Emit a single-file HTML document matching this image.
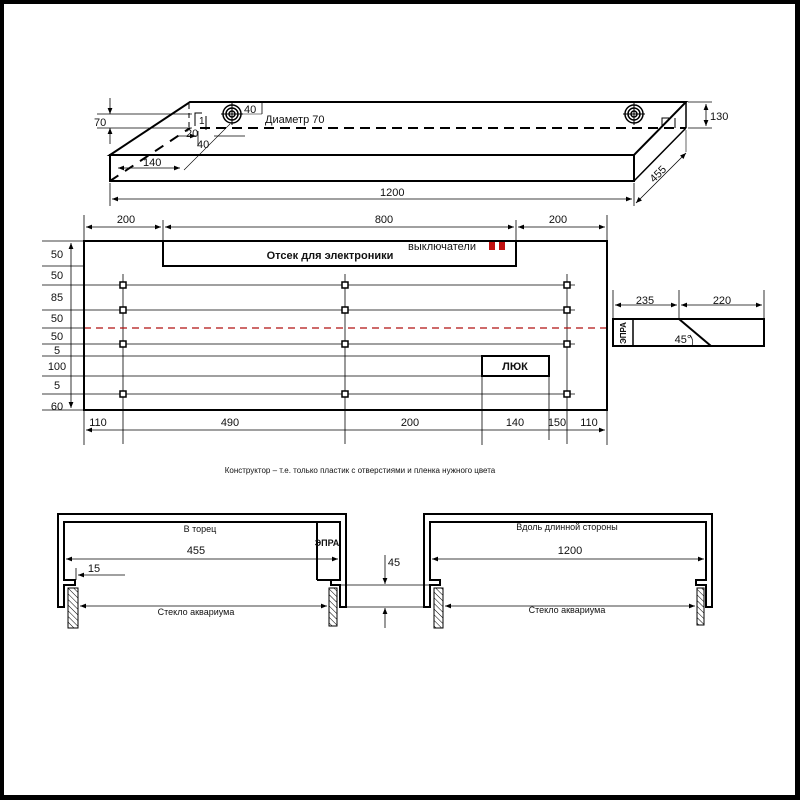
<!DOCTYPE html>
<html><head><meta charset="utf-8"><style>
html,body{margin:0;padding:0;background:#fff}
svg{display:block}
text{font-family:"Liberation Sans",sans-serif;fill:#111}
</style></head><body>
<svg width="800" height="800" viewBox="0 0 800 800" xmlns="http://www.w3.org/2000/svg">
<defs>
<marker id="a" viewBox="0 0 10 10" refX="10" refY="5" markerWidth="8" markerHeight="6" orient="auto-start-reverse" markerUnits="userSpaceOnUse"><path d="M0,1 L10,5 L0,9 z" fill="#000"/></marker>
<pattern id="h" width="4" height="4" patternUnits="userSpaceOnUse" patternTransform="rotate(-45)"><line x1="0" y1="0" x2="0" y2="4" stroke="#000" stroke-width="1"/></pattern>
</defs>
<rect x="0" y="0" width="800" height="800" fill="#000"/>
<rect x="4" y="4" width="791" height="791" fill="#fff"/>

<g stroke="#000" fill="none">
<path d="M110,155 L190,102 L686,102 L634,155 Z" stroke-width="2"/>
<rect x="110" y="155" width="524" height="26" stroke-width="2"/>
<line x1="686" y1="102" x2="686" y2="128" stroke-width="1.5"/>
<line x1="634" y1="181" x2="686" y2="128" stroke-width="1.5"/>
<line x1="200" y1="128" x2="686" y2="128" stroke-width="2" stroke-dasharray="10,6"/>
<line x1="110" y1="181" x2="190" y2="128" stroke-width="2" stroke-dasharray="10,8"/>
<line x1="189" y1="104" x2="189" y2="128" stroke-width="1" stroke-dasharray="5,4"/>
<g stroke-width="1.5"><circle cx="232" cy="114" r="9"/><circle cx="232" cy="114" r="6"/><circle cx="232" cy="114" r="3"/><line x1="221" y1="114" x2="243" y2="114" stroke-width="1"/><line x1="232" y1="103" x2="232" y2="125" stroke-width="1"/></g>
<g stroke-width="1.5"><circle cx="634" cy="114" r="9"/><circle cx="634" cy="114" r="6"/><circle cx="634" cy="114" r="3"/><line x1="623" y1="114" x2="645" y2="114" stroke-width="1"/><line x1="634" y1="103" x2="634" y2="125" stroke-width="1"/></g>
<path d="M662,126 V118 H669" stroke-width="1"/><line x1="675" y1="118" x2="675" y2="128" stroke-width="1"/>
<path d="M195,126 V113 H202" stroke-width="1"/><line x1="206" y1="116" x2="206" y2="130" stroke-width="1"/>
<line x1="97" y1="114" x2="192" y2="114" stroke-width="0.8"/>
<line x1="97" y1="128" x2="192" y2="128" stroke-width="0.8"/>
<line x1="110" y1="98" x2="110" y2="114" stroke-width="0.8" marker-end="url(#a)"/>
<line x1="110" y1="144" x2="110" y2="128" stroke-width="0.8" marker-end="url(#a)"/>
<line x1="198" y1="131" x2="198" y2="146" stroke-width="0.8"/>
<line x1="178" y1="136" x2="196" y2="136" stroke-width="0.8" marker-end="url(#a)"/>
<line x1="214" y1="136" x2="245" y2="136" stroke-width="0.8"/>
<line x1="184" y1="170" x2="230" y2="124" stroke-width="0.6"/>
<line x1="118" y1="168" x2="180" y2="168" stroke-width="0.8" marker-start="url(#a)" marker-end="url(#a)"/>
<line x1="243" y1="114" x2="262" y2="114" stroke-width="0.6"/>
<line x1="262" y1="102" x2="262" y2="114" stroke-width="0.8"/>
<line x1="110" y1="183" x2="110" y2="206" stroke-width="0.8"/>
<line x1="634" y1="183" x2="634" y2="206" stroke-width="0.8"/>
<line x1="112" y1="199" x2="632" y2="199" stroke-width="0.8" marker-start="url(#a)" marker-end="url(#a)"/>
<line x1="688" y1="102" x2="712" y2="102" stroke-width="0.8"/>
<line x1="688" y1="128" x2="712" y2="128" stroke-width="0.8"/>
<line x1="706" y1="104" x2="706" y2="126" stroke-width="0.8" marker-start="url(#a)" marker-end="url(#a)"/>
<line x1="686" y1="130" x2="686" y2="152" stroke-width="0.6"/>
<line x1="636" y1="203" x2="686" y2="153" stroke-width="0.8" marker-start="url(#a)" marker-end="url(#a)"/>
</g>
<text x="94" y="126" font-size="11">70</text>
<text x="244" y="113" font-size="11">40</text>
<text x="265" y="123" font-size="11">Диаметр 70</text>
<text x="199" y="124" font-size="10">1</text>
<text x="186" y="137" font-size="11">20</text>
<text x="197" y="148" font-size="11">40</text>
<text x="143" y="166" font-size="11">140</text>
<text x="380" y="196" font-size="11">1200</text>
<text x="710" y="120" font-size="11">130</text>
<text x="0" y="0" font-size="11" transform="translate(654,183) rotate(-45)">455</text>

<g stroke="#000" fill="none">
<g stroke-width="0.8">
<line x1="42" y1="241" x2="84" y2="241"/>
<line x1="42" y1="266" x2="84" y2="266"/>
<line x1="42" y1="285" x2="575" y2="285"/>
<line x1="42" y1="310" x2="575" y2="310"/>
<line x1="42" y1="344" x2="575" y2="344"/>
<line x1="42" y1="356" x2="482" y2="356"/>
<line x1="42" y1="376" x2="482" y2="376"/>
<line x1="42" y1="394" x2="575" y2="394"/>
<line x1="42" y1="410" x2="84" y2="410"/>
<line x1="42" y1="328" x2="84" y2="328"/>
<line x1="71" y1="243" x2="71" y2="408" marker-start="url(#a)" marker-end="url(#a)"/>
<line x1="123" y1="274" x2="123" y2="444"/>
<line x1="345" y1="274" x2="345" y2="444"/>
<line x1="567" y1="274" x2="567" y2="444"/>
<line x1="84" y1="410" x2="84" y2="445"/>
<line x1="482" y1="376" x2="482" y2="445"/>
<line x1="549" y1="376" x2="549" y2="440"/>
<line x1="607" y1="410" x2="607" y2="445"/>
<line x1="86" y1="430" x2="605" y2="430" marker-start="url(#a)" marker-end="url(#a)"/>
<line x1="84" y1="215" x2="84" y2="241"/>
<line x1="163" y1="220" x2="163" y2="241"/>
<line x1="516" y1="220" x2="516" y2="241"/>
<line x1="607" y1="215" x2="607" y2="241"/>
<line x1="86" y1="227" x2="161" y2="227" marker-start="url(#a)" marker-end="url(#a)"/>
<line x1="165" y1="227" x2="514" y2="227" marker-start="url(#a)" marker-end="url(#a)"/>
<line x1="518" y1="227" x2="605" y2="227" marker-start="url(#a)" marker-end="url(#a)"/>
</g>
<line x1="84" y1="328" x2="612" y2="328" stroke="#b01010" stroke-width="1.2" stroke-dasharray="7,5"/>
<rect x="84" y="241" width="523" height="169" stroke-width="2"/>
<rect x="163" y="241" width="353" height="25" stroke-width="2"/>
<rect x="482" y="356" width="67" height="20" stroke-width="2"/>
<g stroke-width="1.5" fill="#fff">
<rect x="120" y="282" width="6" height="6"/><rect x="120" y="307" width="6" height="6"/><rect x="120" y="341" width="6" height="6"/><rect x="120" y="391" width="6" height="6"/>
<rect x="342" y="282" width="6" height="6"/><rect x="342" y="307" width="6" height="6"/><rect x="342" y="341" width="6" height="6"/><rect x="342" y="391" width="6" height="6"/>
<rect x="564" y="282" width="6" height="6"/><rect x="564" y="307" width="6" height="6"/><rect x="564" y="341" width="6" height="6"/><rect x="564" y="391" width="6" height="6"/>
</g>
<rect x="613" y="319" width="151" height="27" stroke-width="2"/>
<line x1="633" y1="319" x2="633" y2="346" stroke-width="1.5"/>
<line x1="679" y1="319" x2="711" y2="346" stroke-width="2"/>
<path d="M690,335 Q694,340 692,346" stroke-width="0.7"/>
<g stroke-width="0.8">
<line x1="613" y1="290" x2="613" y2="319"/>
<line x1="679" y1="290" x2="679" y2="319"/>
<line x1="764" y1="290" x2="764" y2="319"/>
<line x1="615" y1="305" x2="677" y2="305" marker-start="url(#a)" marker-end="url(#a)"/>
<line x1="681" y1="305" x2="762" y2="305" marker-start="url(#a)" marker-end="url(#a)"/>
</g>
</g>
<rect x="489" y="242" width="6" height="8" fill="#c01010"/>
<rect x="499" y="242" width="6" height="8" fill="#c01010"/>
<g font-size="11" text-anchor="middle">
<text x="57" y="258">50</text><text x="57" y="279">50</text><text x="57" y="301">85</text><text x="57" y="322">50</text><text x="57" y="340">50</text><text x="57" y="354">5</text><text x="57" y="370">100</text><text x="57" y="389">5</text><text x="57" y="410">60</text>
<text x="98" y="426">110</text><text x="230" y="426">490</text><text x="410" y="426">200</text><text x="515" y="426">140</text><text x="557" y="426">150</text><text x="589" y="426">110</text>
<text x="126" y="223">200</text><text x="384" y="223">800</text><text x="558" y="223">200</text>
<text x="645" y="304">235</text><text x="722" y="304">220</text>
<text x="330" y="259" font-weight="bold">Отсек для электроники</text>
<text x="442" y="250">выключатели</text>
<text x="515" y="370" font-weight="bold">ЛЮК</text>
<text x="683" y="343">45°</text>
</g>
<text x="0" y="0" font-size="8" font-weight="bold" text-anchor="middle" transform="translate(626,333) rotate(-90)">ЭПРА</text>
<text x="360" y="473" font-size="8" text-anchor="middle">Конструктор – т.е. только пластик с отверстиями и пленка нужного цвета</text>

<g stroke="#000" fill="none" stroke-width="2">
<path d="M58,607 V514 H346 V607 H340 V585 H331 V580 H340 V522 H64 V580 H75 V585 H64 V607 Z"/>
<path d="M317,522 V580"/><path d="M317,580 H331"/>
<path d="M424,607 V514 H712 V607 H706 V585 H696 V580 H706 V522 H430 V580 H440 V585 H430 V607 Z"/>
</g>
<g stroke="#000" stroke-width="1" fill="url(#h)">
<rect x="68" y="588" width="10" height="40"/>
<rect x="329" y="588" width="8" height="38"/>
<rect x="434" y="588" width="9" height="40"/>
<rect x="697" y="588" width="7" height="37"/>
</g>
<g stroke="#000" fill="none" stroke-width="0.8">
<line x1="66" y1="559" x2="338" y2="559" marker-start="url(#a)" marker-end="url(#a)"/>
<line x1="76" y1="568" x2="76" y2="580"/>
<line x1="125" y1="575" x2="78" y2="575" marker-end="url(#a)"/>
<line x1="80" y1="606" x2="327" y2="606" marker-start="url(#a)" marker-end="url(#a)"/>
<line x1="432" y1="559" x2="704" y2="559" marker-start="url(#a)" marker-end="url(#a)"/>
<line x1="445" y1="606" x2="695" y2="606" marker-start="url(#a)" marker-end="url(#a)"/>
<line x1="341" y1="585" x2="430" y2="585"/>
<line x1="346" y1="607" x2="424" y2="607"/>
<line x1="385" y1="555" x2="385" y2="584" marker-end="url(#a)"/>
<line x1="385" y1="628" x2="385" y2="608" marker-end="url(#a)"/>
</g>
<g font-size="11" text-anchor="middle">
<text x="200" y="532" font-size="9">В торец</text>
<text x="196" y="554">455</text>
<text x="94" y="572">15</text>
<text x="327" y="546" font-size="9" font-weight="bold">ЭПРА</text>
<text x="196" y="615" font-size="9">Стекло аквариума</text>
<text x="394" y="566">45</text>
<text x="567" y="530" font-size="9">Вдоль длинной стороны</text>
<text x="570" y="554">1200</text>
<text x="567" y="613" font-size="9">Стекло аквариума</text>
</g>
</svg>
</body></html>
